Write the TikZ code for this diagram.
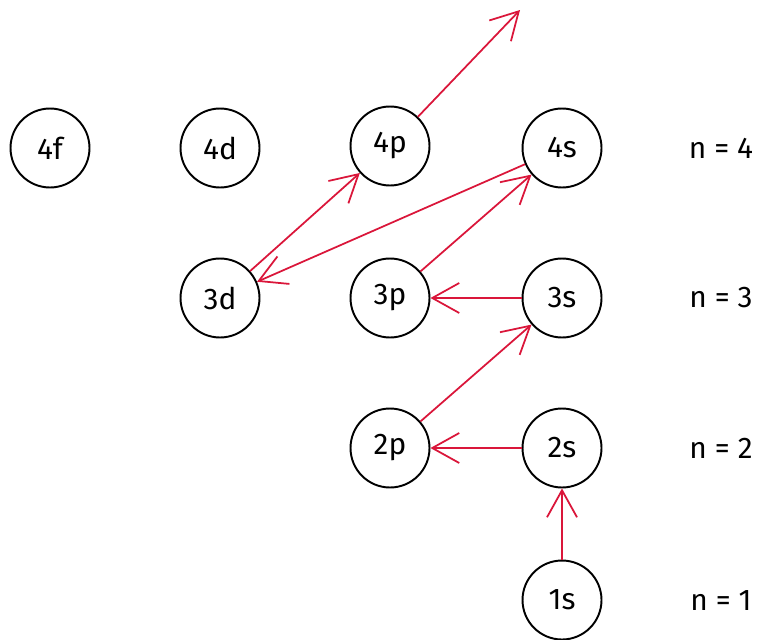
\documentclass[tikz,border=0pt]{standalone}
\usepackage{fontspec}
\setmainfont{Fira Sans}
\usetikzlibrary{arrows.meta}
\definecolor{arrowred}{RGB}{218,22,58}
\begin{document}
\begin{tikzpicture}[x=0.02cm,y=-0.02cm,
  orbital/.style={circle,draw=black,line width=1.1pt,minimum size=1.58cm,inner sep=0pt,font=\fontsize{17}{20}\selectfont},
  level/.style={font=\fontsize{17}{20}\selectfont,anchor=center},
  fill order/.style={draw=arrowred,line width=1pt,-{Straight Barb[length=5.4mm,width=6mm,line width=1pt]}}]
\useasboundingbox (0,0) rectangle (759,639);
% orbitals, one row per shell
\node[orbital] (4f) at (50,148) {4f};
\node[orbital] (4d) at (220,148) {4d};
\node[orbital] (4p) at (390,146) {4p};
\node[orbital] (4s) at (562,148) {4s};
\node[orbital] (3d) at (220,298) {3d};
\node[orbital] (3p) at (390,298) {3p};
\node[orbital] (3s) at (562,298) {3s};
\node[orbital] (2p) at (390,448) {2p};
\node[orbital] (2s) at (562,448) {2s};
\node[orbital] (1s) at (562,600) {1s};
% shell labels
\node[level] (n4) at (721,148) {n = 4};
\node[level] (n3) at (721,298) {n = 3};
\node[level] (n2) at (721,448) {n = 2};
\node[level] (n1) at (721,600) {n = 1};
\coordinate (next) at (520,10);
% filling order
\draw[fill order] (1s) -- (2s);
\draw[fill order] (2s) -- (2p);
\draw[fill order] (2p) -- (3s);
\draw[fill order] (3s) -- (3p);
\draw[fill order] (3p) -- (4s);
\draw[fill order] (4s) -- (3d);
\draw[fill order] (3d) -- (4p);
\draw[fill order] (4p) -- (next);
\end{tikzpicture}
\end{document}
